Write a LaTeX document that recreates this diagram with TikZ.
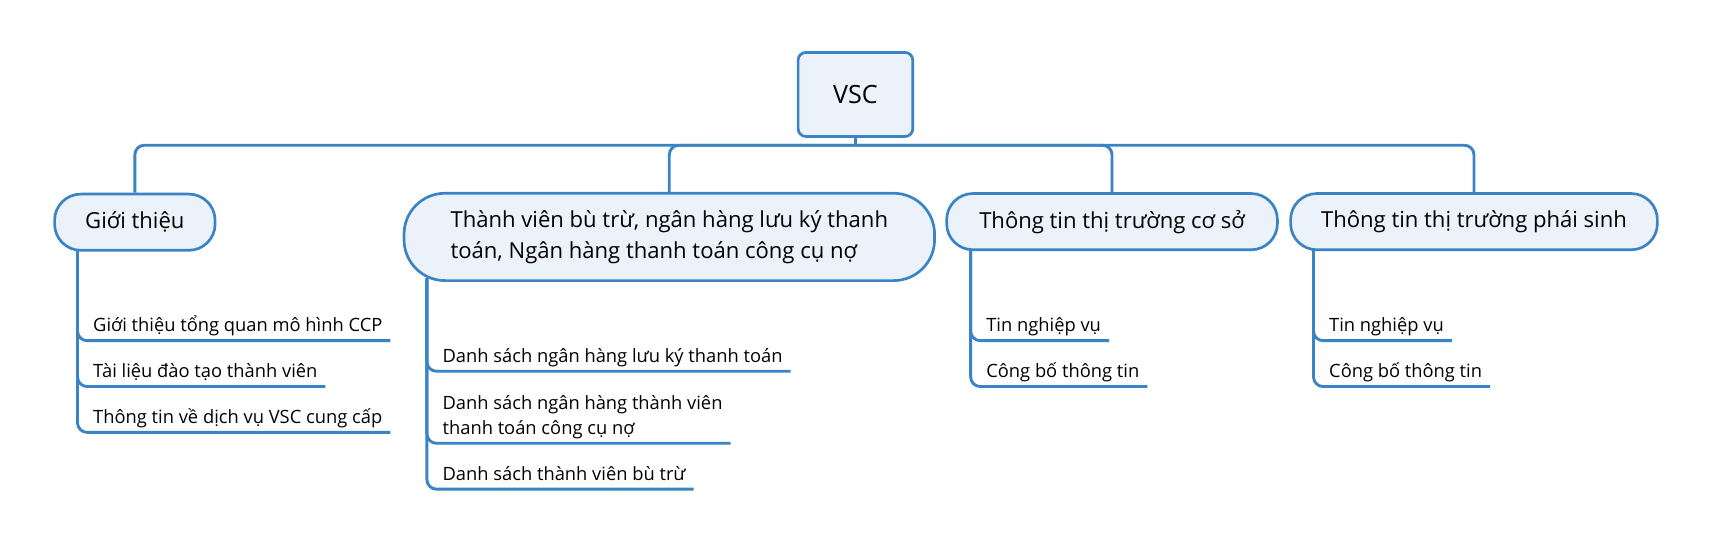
\documentclass[tikz,border=0pt]{standalone}
\usepackage{fontspec}
\setmainfont{Open Sans}
\definecolor{lineblue}{RGB}{58,131,196}
\definecolor{boxfill}{RGB}{235,242,249}
\begin{document}
\begin{tikzpicture}
          [x=0.02cm,y=-0.02cm,
          root/.style={shape=rectangle,draw=lineblue,fill=boxfill,text=black,line width=1.4pt,rounded corners=4pt,minimum width=2.1cm,minimum height=1.54cm,font=\fontsize{13.1}{16}\selectfont},
          topic/.style={shape=rectangle,draw=lineblue,fill=boxfill,text=black,line width=1.4pt,rounded corners=0.48cm,minimum height=1.03cm,font=\fontsize{11.5}{16.2}\selectfont},
          leaf/.style={anchor=south west,inner xsep=4pt,inner ysep=4.5pt,text depth=0pt,align=left,font=\fontsize{9.55}{13.1}\selectfont},
          edge/.style={draw=lineblue,line width=1.5pt,rounded corners=5pt}]

            \useasboundingbox (0,0) rectangle (1568,498);

            \node (0) [root] at (783.5,86.5) {VSC};
            \node (1) [topic,minimum width=2.94cm] at (123.5,203.5) {Giới thiệu};
            \node (2) [topic,minimum width=9.72cm,minimum height=1.6cm,rounded corners=0.75cm,align=left] at (613,217) {Thành viên bù trừ, ngân hàng lưu ký thanh\\toán, Ngân hàng thanh toán công cụ nợ};
            \node (3) [topic,minimum width=6.06cm] at (1018.5,203) {Thông tin thị trường cơ sở};
            \node (4) [topic,minimum width=6.72cm] at (1350,203) {Thông tin thị trường phái sinh};

            \node (1a) [leaf] at (78,312) {Giới thiệu tổng quan mô hình CCP};
            \node (1b) [leaf] at (78,354) {Tài liệu đào tạo thành viên};
            \node (1c) [leaf] at (78,396) {Thông tin về dịch vụ VSC cung cấp};
            \node (2a) [leaf] at (398,340) {Danh sách ngân hàng lưu ký thanh toán};
            \node (2b) [leaf] at (398,406) {Danh sách ngân hàng thành viên\\thanh toán công cụ nợ};
            \node (2c) [leaf] at (398,448) {Danh sách thành viên bù trừ};
            \node (3a) [leaf] at (896,312) {Tin nghiệp vụ};
            \node (3b) [leaf] at (896,354) {Công bố thông tin};
            \node (4a) [leaf] at (1210,312) {Tin nghiệp vụ};
            \node (4b) [leaf] at (1210,354) {Công bố thông tin};

          \coordinate (bus) at (783.5,133);
          \coordinate (B1) at (71,229);
          \coordinate (B2) at (391,255);
          \coordinate (B3) at (889,229);
          \coordinate (B4) at (1203,229);

          \draw [edge] (0) -- (bus);
          \foreach \i in {1,2,3,4}
            \draw [edge] (bus) -| (\i);
          \foreach \i/\j in {1/1a,1/1b,1/1c,2/2a,2/2b,2/2c,3/3a,3/3b,4/4a,4/4b}
            \draw [edge] (B\i) |- (\j.south east);

        \end{tikzpicture}
\end{document}
